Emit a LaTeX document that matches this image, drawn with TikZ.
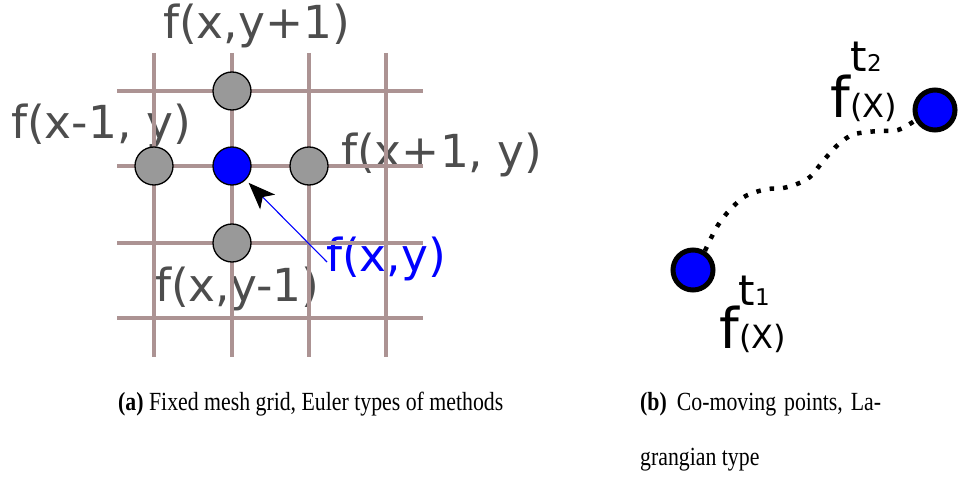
\documentclass[tikz,border=0pt]{standalone}
\usepackage{fontspec}
\setmainfont{Liberation Serif}
\newfontfamily\dv{DejaVu Sans}
\usetikzlibrary{arrows.meta}
\definecolor{gridc}{RGB}{172,147,147}
\definecolor{labc}{RGB}{77,77,77}
\definecolor{dotc}{RGB}{153,153,153}
\tikzset{
  lab/.style={anchor=base west, inner sep=0pt, text=labc, font=\dv\fontsize{45.5}{50}\selectfont},
  gline/.style={draw=gridc, line width=3.6pt},
  gdot/.style={circle, minimum size=38pt, inner sep=0pt, fill=dotc, draw=black, line width=1.3pt},
  cdot/.style={gdot, fill=blue},
  pdot/.style={circle, minimum size=40pt, inner sep=0pt, fill=blue, draw=black, line width=5pt},
  plab/.style={anchor=base west, inner sep=0pt, text=black, font=\dv\fontsize{#1}{#1}\selectfont},
  captext/.style={anchor=base west, inner sep=0pt, font=\fontsize{21.8}{24}\selectfont},
  trail/.style={draw=black, line width=4.5pt, dash pattern=on 4.5pt off 9pt},
}
\begin{document}
\begin{tikzpicture}[x=1pt,y=-1pt]
\useasboundingbox (0,0) rectangle (958,492);
% labels (drawn first, grid over them)
\node[lab] (ltop) at (163,39) {f(x,y+1)};
\node[lab] (lleft) at (11,139) {f(x-1, y)};
\node[lab] (lright) at (341,167) {f(x+1, y)};
\node[lab] (lbot) at (155,301) {f(x,y-1)};
\node[lab, text=blue] (lc) at (326,271) {f(x,y)};
% grid
\foreach \gx in {154,232,309,386} \draw[gline] (\gx,53) -- (\gx,357);
\foreach \gy in {91,166,243,318} \draw[gline] (117,\gy) -- (423,\gy);
% circles
\node[gdot] (cu) at (232,91) {};
\node[gdot] (cl) at (154,166) {};
\node[gdot] (cr) at (309,166) {};
\node[gdot] (cd) at (232,243) {};
\node[cdot] (c0) at (232,166) {};
% arrow
\coordinate (astart) at (327,262);
\draw[blue, line width=1.1pt, shorten >=4pt, -{Stealth[length=27pt, width=21pt, inset=7pt, color=black]}] (astart) -- (c0);
% panel b
\node[pdot] (p1) at (693,270) {};
\node[pdot] (p2) at (935,110) {};
\draw[trail] plot[smooth, tension=0.6] coordinates {(p1.58) (720,222) (740,200) (753,193) (768,189) (783,188) (797,184) (810,177) (820,165) (830,153) (840,143) (852,135) (867,132) (882,131) (898,130) (p2.208)};
\node[plab=42] (t2) at (850,72) {t};
\node[plab=23] (t2n) at (t2.base east) {2};
\node[plab=56] (f2) at (830,118) {f};
\node[plab=32] (x2) at (f2.base east) {(X)};
\node[plab=42] (t1) at (738,305) {t};
\node[plab=23] (t1n) at (t1.base east) {1};
\node[plab=56] (f1) at (719,348) {f};
\node[plab=32] (x1) at (f1.base east) {(X)};
% captions
\node[captext] (capa) at (118,410) {\scalebox{1}[1.2]{\textbf{(a)} Fixed mesh grid, Euler types of methods}};
\node[captext] (capb) at (640,410) {\scalebox{1}[1.2]{\textbf{(b)}\hspace{10pt}Co-moving\hspace{8pt}points,\hspace{8pt}La-}};
\node[captext] (capb2) at (640,465) {\scalebox{1}[1.2]{grangian type}};
\end{tikzpicture}
\end{document}
